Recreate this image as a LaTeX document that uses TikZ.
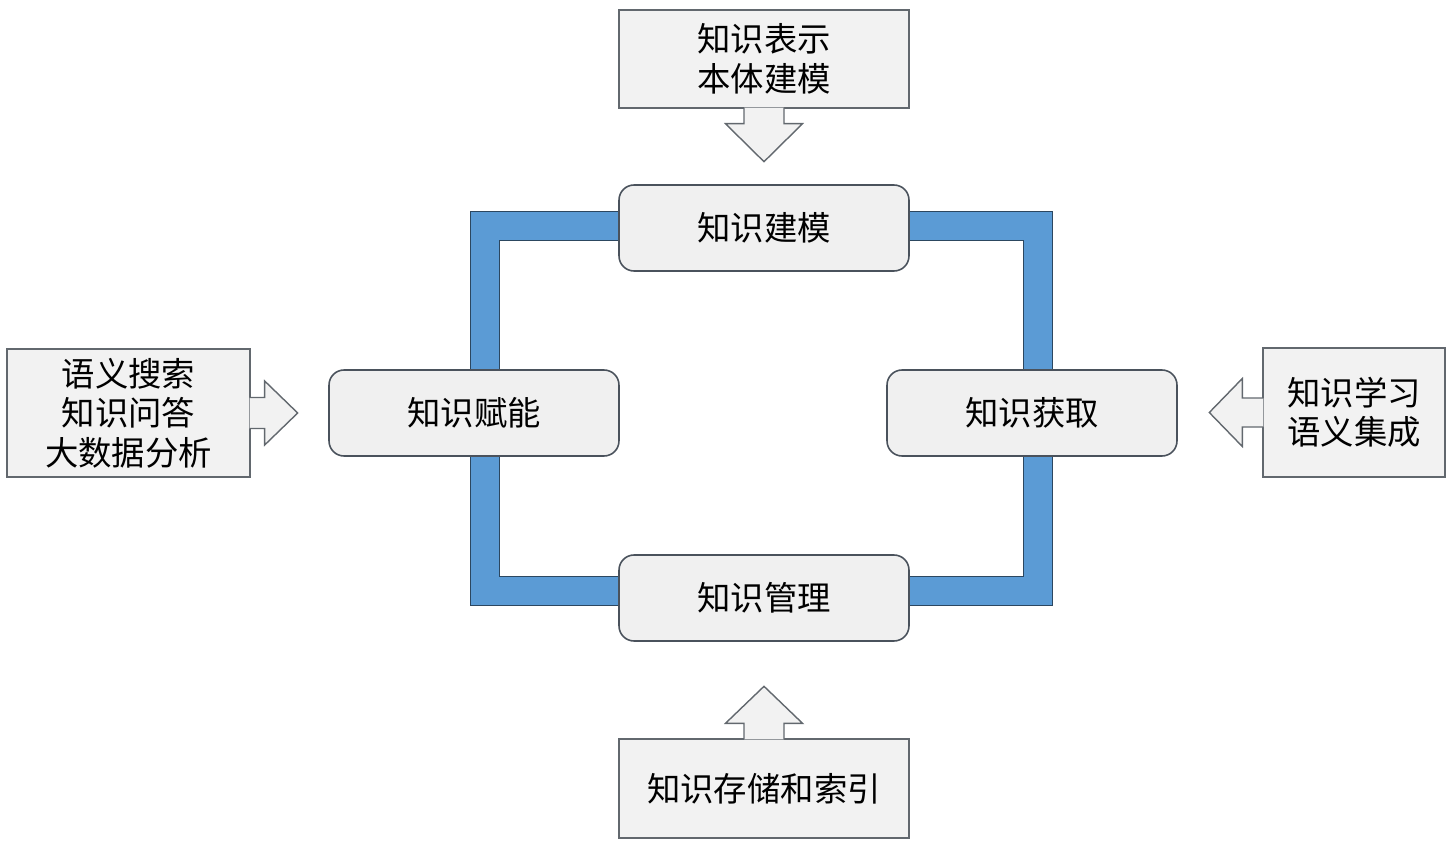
\documentclass[tikz,border=0pt]{standalone}
\usepackage{fontspec}
\usepackage{xcolor}
\usepackage{tikz}
\usetikzlibrary{backgrounds}
\newfontfamily\cjk{Noto Sans CJK SC}
\definecolor{stagefill}{HTML}{F0F0F0}
\definecolor{stageline}{HTML}{4A525C}
\definecolor{tabfill}{HTML}{F2F2F2}
\definecolor{tabline}{HTML}{62686E}
\definecolor{ringfill}{HTML}{5B9BD5}
\definecolor{ringline}{HTML}{2C4760}
\tikzset{
  stage/.style={draw=stageline, fill=stagefill, line width=0.9pt, rounded corners=0.3cm,
    minimum width=5.8cm, minimum height=1.72cm, font=\cjk\fontsize{19}{23}\selectfont},
  tab/.style={draw=tabline, fill=tabfill, line width=0.8pt},
  tabbox/.style={tab, align=center, inner sep=0, font=\cjk\fontsize{19}{22.5}\selectfont},
  ring/.style={draw=ringline, line width=0.6pt, double=ringfill, double distance=0.56cm, line join=miter}
}

\begin{document}
\begin{tikzpicture}[x=0.02cm, y=-0.02cm]
  \useasboundingbox (0,0) rectangle (1454,851);
  \node[stage] (mod) at (764,228) {知识建模};
  \node[stage] (ena) at (474,413) {知识赋能};
  \node[stage] (acq) at (1032,413) {知识获取};
  \node[stage] (man) at (764,598) {知识管理};
  \begin{scope}[on background layer]
    \draw[ring] ([yshift=0.04cm]mod.center) -| ([xshift=0.12cm]acq.center);
    \draw[ring] ([xshift=0.12cm]acq.center) |- ([yshift=0.14cm]man.center);
    \draw[ring] ([yshift=0.14cm]man.center) -| ([xshift=0.22cm]ena.center);
    \draw[ring] ([xshift=0.22cm]ena.center) |- ([yshift=0.04cm]mod.center);
  \end{scope}

  \node[tabbox, minimum width=5.8cm, minimum height=1.96cm] (rep) at (764,59) {知识表示\\本体建模};
  \filldraw[tab] (rep.south) ++(-20,-1) -- ++(0,16) -- ++(-18.5,0) -- ++(38.5,38) -- ++(38.5,-38) -- ++(-18.5,0) -- ++(0,-16);
  \node[tabbox, minimum width=5.8cm, minimum height=1.98cm] (store) at (764,788.5) {知识存储和索引};
  \filldraw[tab] (store.north) ++(-20,1) -- ++(0,-16) -- ++(-18.5,0) -- ++(38.5,-37) -- ++(38.5,37) -- ++(-18.5,0) -- ++(0,16);
  \node[tabbox, minimum width=4.86cm, minimum height=2.56cm] (query) at (128.5,413) {语义搜索\\知识问答\\大数据分析};
  \filldraw[tab] (query.east) ++(-1,-15.5) -- ++(15,0) -- ++(0,-16.5) -- ++(33,32) -- ++(-33,32) -- ++(0,-16.5) -- ++(-15,0);
  \node[tabbox, minimum width=3.64cm, minimum height=2.58cm] (learn) at (1354,412.5) {知识学习\\语义集成};
  \filldraw[tab] (learn.west) ++(1,-14.5) -- ++(-21,0) -- ++(0,-19.5) -- ++(-33,34) -- ++(33,34) -- ++(0,-19.5) -- ++(21,0);
\end{tikzpicture}
\end{document}
